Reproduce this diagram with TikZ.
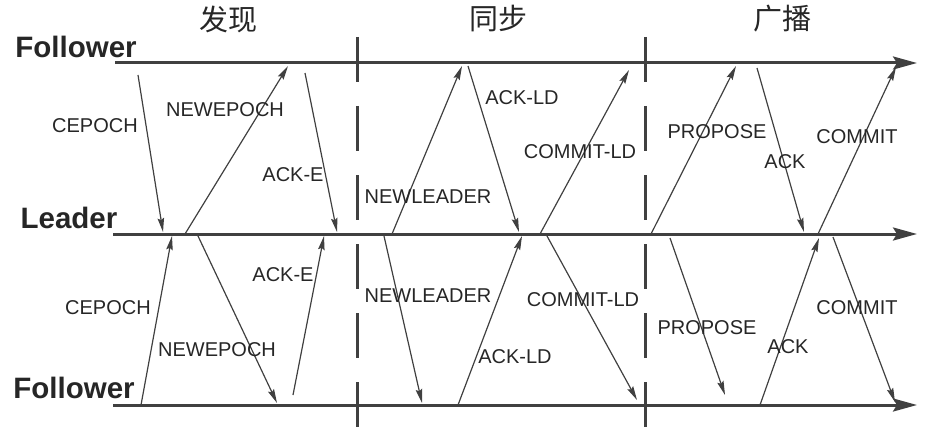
\documentclass[tikz,border=0pt]{standalone}
\usepackage{fontspec}
\setmainfont{Liberation Sans}
\newfontfamily\cjk{Noto Sans CJK SC}
\usetikzlibrary{arrows.meta,positioning}

\begin{document}
\begin{tikzpicture}[
    x=1pt,y=-1pt,
    every node/.style={font=\fontsize{20}{22}\selectfont,text=black!85,inner sep=0pt},
    role/.style={font=\fontsize{29.5}{31}\selectfont\bfseries},
    phase/.style={font=\cjk\fontsize{29}{31}\selectfont},
    timeline/.style={line width=3pt,draw=black!75,-{Stealth[length=24pt,width=13pt,inset=4pt]}},
    divider/.style={line width=3pt,draw=black!75,dash pattern=on 45pt off 24pt},
    msg/.style={line width=1.2pt,draw=black!75,-{Stealth[length=14pt,width=6.5pt,inset=2pt]}}
]
\useasboundingbox (0,0) rectangle (925,433);

% Roles and phases
\node[role] (fol1) at (76,47)  {Follower};
\node[role] (lead) at (69,218) {Leader};
\node[role] (fol2) at (74,388) {Follower};
\node[phase] (disc) at (228,19) {发现};
\node[phase] (sync) at (498,19) {同步};
\node[phase] (bcast) at (782,19) {广播};

% Time lines
\coordinate (t1s) at (115,63);  \coordinate (t1e) at (917,63);
\coordinate (t2s) at (113,234); \coordinate (t2e) at (917,234);
\coordinate (t3s) at (113,405); \coordinate (t3e) at (917,405);
\draw[timeline] (t1s) -- (t1e);
\draw[timeline] (t2s) -- (t2e);
\draw[timeline] (t3s) -- (t3e);

% Phase borders
\coordinate (d1t) at (357,37); \coordinate (d1b) at (357,428);
\coordinate (d2t) at (645,37); \coordinate (d2b) at (645,428);
\draw[divider] (d1t) -- (d1b);
\draw[divider] (d2t) -- (d2b);

% Messages: name / start / end
\foreach \n/\sx/\sy/\ex/\ey in {
    cepochT/138/75/163/232, newepochT/185/234/288/66, ackeT/305/73/337/232,
    newleaderT/392/234/462/66, ackldT/468/66/519/232, commitldT/540/234/629/70,
    proposeT/651/234/736/66, ackT/757/68/804/232, commitT/818/234/896/67,
    cepochB/141/405/172/236, newepochB/198/236/277/403, ackeB/293/395/324/236,
    newleaderB/384/236/422/403, ackldB/458/405/522/236, commitldB/547/236/637/400,
    proposeB/670/238/725/395, ackB/760/405/819/238, commitB/833/237/895/402}{
  \coordinate (\n-s) at (\sx,\sy);
  \coordinate (\n-e) at (\ex,\ey);
  \draw[msg] (\n-s) -- (\n-e);
}

% Message labels
\foreach \n/\x/\y/\t in {
    cepochTL/95/126/CEPOCH, newepochTL/225/110/NEWEPOCH, ackeTL/293/175/ACK-E,
    newleaderTL/428/197/NEWLEADER, ackldTL/522/98/ACK-LD, commitldTL/580/152/COMMIT-LD,
    proposeTL/717/132/PROPOSE, ackTL/785/162/ACK, commitTL/857/137/COMMIT,
    cepochBL/108/308/CEPOCH, newepochBL/217/350/NEWEPOCH, ackeBL/283/275/ACK-E,
    newleaderBL/428/296/NEWLEADER, ackldBL/515/357/ACK-LD, commitldBL/583/300/COMMIT-LD,
    proposeBL/707/328/PROPOSE, ackBL/788/347/ACK, commitBL/857/308/COMMIT}{
  \node (\n) at (\x,\y) {\t};
}
\end{tikzpicture}
\end{document}
